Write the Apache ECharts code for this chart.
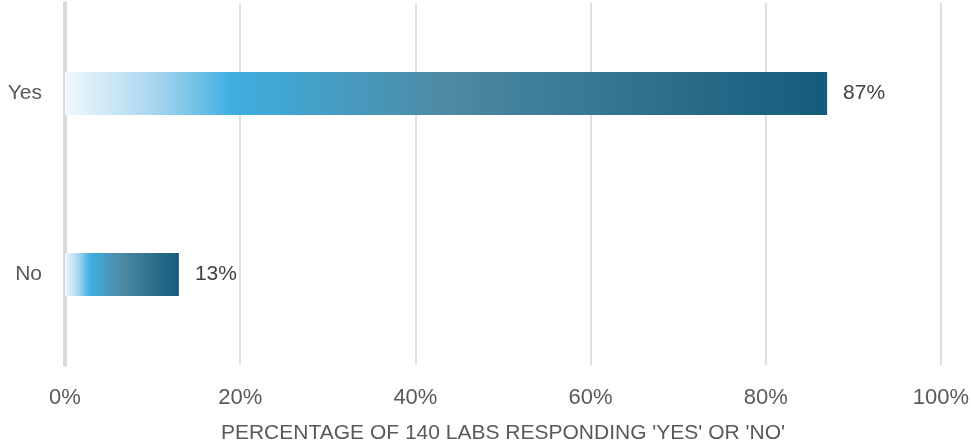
<!DOCTYPE html>
<html>
<head>
<meta charset="utf-8">
<title>Labs responding</title>
<script src="https://cdn.jsdelivr.net/npm/echarts@6/dist/echarts.min.js"></script>
<style>
  html, body { margin: 0; padding: 0; background: #fff; }
  #main { width: 971px; height: 442px; }
</style>
</head>
<body>
<div id="main"></div>
<script type="text/javascript">
// categories bottom-to-top for the category y axis
var answers = ['No', 'Yes'];
var percentValues = [13, 87];
var xTicks = [0, 20, 40, 60, 80, 100];
var axisTitle = "PERCENTAGE OF 140 LABS RESPONDING 'YES' OR 'NO'";

var chart = echarts.init(document.getElementById('main'));

var barFill = new echarts.graphic.LinearGradient(0, 0, 1, 0, [
  { offset: 0, color: '#f0f8fc' },
  { offset: 0.12, color: '#a6d6ee' },
  { offset: 0.22, color: '#3eaee0' },
  { offset: 0.5, color: '#4d8aa3' },
  { offset: 1, color: '#145b7b' }
]);

chart.setOption({
  backgroundColor: '#ffffff',
  textStyle: { fontFamily: '"Liberation Sans", Arial, sans-serif' },
  grid: { left: 65, right: 30, top: 3, bottom: 77, containLabel: false, outerBoundsMode: 'none' },
  xAxis: {
    type: 'value',
    min: xTicks[0],
    max: xTicks[xTicks.length - 1],
    interval: 20,
    axisLine: { show: false },
    axisTick: { show: false },
    splitLine: { lineStyle: { color: '#d4d4d4', width: 1.5 } },
    axisLabel: {
      formatter: '{value}%',
      color: '#595959',
      fontSize: 22,
      margin: 22
    },
    name: axisTitle,
    nameLocation: 'middle',
    nameGap: 58,
    nameTextStyle: { color: '#595959', fontSize: 21 }
  },
  yAxis: {
    type: 'category',
    data: answers,
    axisLine: { show: true, lineStyle: { color: '#d9d9d9', width: 4 } },
    axisTick: { show: false },
    axisLabel: { color: '#595959', fontSize: 21, margin: 23 }
  },
  series: [{
    type: 'bar',
    data: percentValues,
    barWidth: 43,
    itemStyle: { color: barFill },
    label: {
      show: true,
      position: 'right',
      distance: 16,
      formatter: '{c}%',
      color: '#404040',
      fontSize: 21
    }
  }]
});
</script>
</body>
</html>
